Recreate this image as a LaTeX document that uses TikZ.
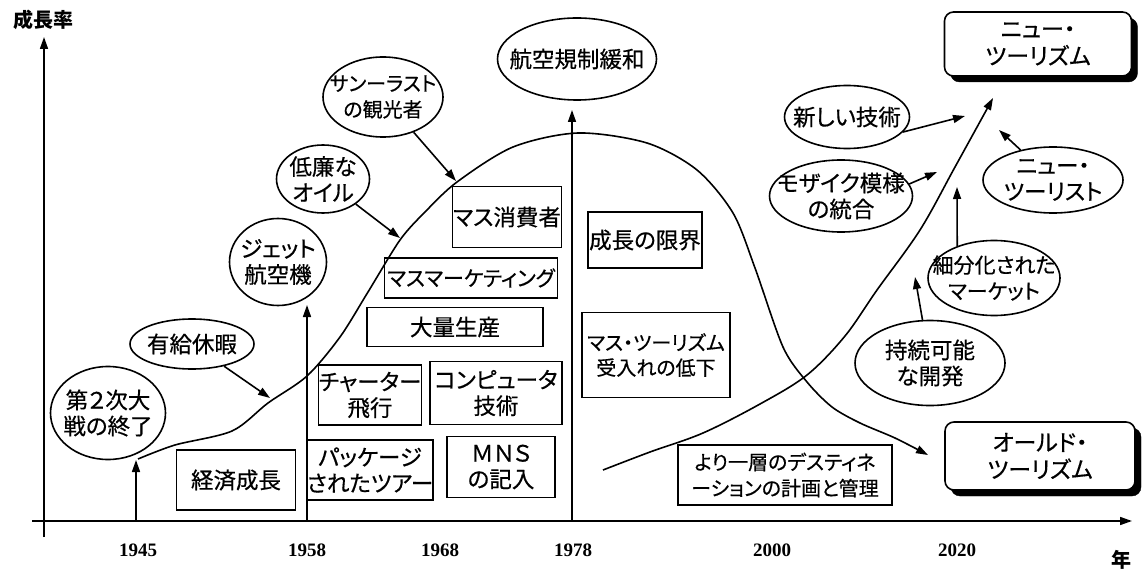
\documentclass[tikz,border=0pt]{standalone}
\usepackage{fontspec}
\setmainfont{Liberation Serif}
\newfontfamily\jp[RawFeature=+palt,FakeBold=0.5]{Noto Sans CJK JP}
\newfontfamily\jpb{Noto Sans CJK JP}
\usetikzlibrary{shapes.geometric,arrows.meta}
\begin{document}
\begin{tikzpicture}[x=1pt,y=-1pt,
  ln/.style={line width=1.6pt},
  arr/.style={line width=1.6pt,-{Triangle[length=12pt,width=8pt]}},
  jpf/.style={font=\jp\fontsize{22.5}{26}\selectfont},
  oval/.style={ellipse,draw,line width=1.6pt,inner sep=-40pt,align=center,jpf},
  sbox/.style={rectangle,draw,line width=1.6pt,inner sep=0pt,align=center,jpf},
  rbox/.style={rectangle,rounded corners=9pt,draw,line width=1.6pt,inner sep=0pt,align=center,fill=white,font=\jp\fontsize{23}{27}\selectfont},
  shad/.style={rectangle,rounded corners=9pt,draw,fill=black,inner sep=0pt},
  year/.style={font=\bfseries\fontsize{19}{19}\selectfont},
  axlab/.style={font=\jpb\bfseries\fontsize{20}{20}\selectfont}
]
\useasboundingbox (0,0) rectangle (1147,572);

% axes
\coordinate (yb) at (44,537);
\coordinate (yt) at (44,37);
\coordinate (xl) at (32,521);
\coordinate (xr) at (1132,521);
\draw[arr] (yb) -- (yt);
\draw[arr] (xl) -- (xr);
\node[axlab] (ylab) at (43,20) {成長率};
\node[axlab] (xlab) at (1121,560) {年};

% years
\node[year] (y1945) at (138,550) {1945};
\node[year] (y1958) at (307,550) {1958};
\node[year] (y1968) at (440,550) {1968};
\node[year] (y1978) at (573,550) {1978};
\node[year] (y2000) at (772,550) {2000};
\node[year] (y2020) at (957,550) {2020};

% vertical markers
\coordinate (a45) at (136,521); \coordinate (t45) at (136,460);
\coordinate (a58) at (307,521); \coordinate (t58) at (307,305);
\coordinate (a78) at (572,521); \coordinate (t78) at (572,110);
\draw[arr] (a45) -- (t45);
\draw[arr] (a58) -- (t58);
\draw[arr] (a78) -- (t78);

% old tourism curve
\draw[arr] plot[smooth,tension=0.5] coordinates {
 (138,459) (175,445) (232,431) (268,403) (307,376) (340,337)
 (368,292) (400,240) (425,212) (457,182) (513,147) (578,133)
 (647,143) (697,170) (733,213) (755,268) (783,347) (807,382) (832,407)
 (860,423) (895,438) (928,455)};

% new tourism curve
\draw[arr] plot[smooth,tension=0.55] coordinates {
 (603,470) (650,452) (703,433) (760,404) (807,375) (845,336)
 (877,290) (920,230) (955,167) (993,98)};

% ovals
\node[oval,minimum width=115pt,minimum height=93pt] (sen) at (108,413) {第２次大\\戦の終了};
\node[oval,minimum width=124pt,minimum height=50pt] (yukyu) at (192,344) {有給休暇};
\node[oval,minimum width=97pt,minimum height=87pt] (jet) at (278,262) {ジェット\\航空機};
\node[oval,minimum width=93pt,minimum height=68pt] (oil) at (323,179) {低廉な\\オイル};
\node[oval,minimum width=120pt,minimum height=80pt,font=\jp\fontsize{20}{26}\selectfont] (sun) at (383,97) {サンーラスト\\の観光者};
\node[oval,minimum width=159pt,minimum height=82pt] (kisei) at (577,59) {航空規制緩和};
\node[oval,minimum width=125pt,minimum height=63pt] (shin) at (847,117) {新しい技術};
\node[oval,minimum width=143pt,minimum height=72pt] (mosaic) at (841,196) {モザイク模様\\の統合};
\node[oval,minimum width=140pt,minimum height=66pt] (nt) at (1053,180) {ニュー・\\ツーリスト};
\node[oval,minimum width=132pt,minimum height=75pt,font=\jp\fontsize{21}{26}\selectfont] (seg) at (994,278) {細分化された\\マーケット};
\node[oval,minimum width=150pt,minimum height=85pt] (jizoku) at (930,363) {持続可能\\な開発};

% boxes
\node[sbox,minimum width=119pt,minimum height=60pt] (keizai) at (236,480) {経済成長};
\node[sbox,minimum width=115pt,minimum height=60pt] (pack) at (370,470) {パッケージ\\されたツアー};
\node[sbox,minimum width=95pt,minimum height=60pt] (charter) at (370,395) {チャーター\\飛行};
\node[sbox,minimum width=132pt,minimum height=63pt] (comp) at (496,393) {コンピュータ\\技術};
\node[sbox,minimum width=108pt,minimum height=61pt] (mns) at (501,467) {ＭＮＳ\\の記入};
\node[sbox,minimum width=176pt,minimum height=39pt] (tairyo) at (455,327) {大量生産};
\node[sbox,minimum width=173pt,minimum height=40pt,font=\jp\fontsize{21}{25}\selectfont] (massmkt) at (471,278) {マスマーケティング};
\node[sbox,minimum width=109pt,minimum height=61pt] (masscons) at (507,217) {マス消費者};
\node[sbox,minimum width=114pt,minimum height=56pt] (genkai) at (645,240) {成長の限界};
\node[sbox,minimum width=148pt,minimum height=85pt,font=\jp\fontsize{20}{25}\selectfont] (teika) at (656,355) {マス・ツーリズム\\受入れの低下};
\node[sbox,minimum width=214pt,minimum height=60pt,font=\jp\fontsize{20}{26}\selectfont] (keikaku) at (785,475) {より一層のデスティネ\\ーションの計画と管理};

% shadowed rounded boxes
\node[shad,minimum width=187pt,minimum height=64pt] (ntsh) at (1044,50) {};
\node[rbox,minimum width=187pt,minimum height=64pt] (newt) at (1038,44) {ニュー・\\ツーリズム};
\node[shad,minimum width=190pt,minimum height=68pt] (otsh) at (1046,462) {};
\node[rbox,minimum width=190pt,minimum height=68pt] (oldt) at (1040,456) {オールド・\\ツーリズム};

% influence arrows
\coordinate (c1) at (270,398);
\coordinate (c2) at (400,238);
\coordinate (c3) at (456,181);
\coordinate (c4) at (965,116);
\coordinate (c5) at (937,172);
\coordinate (c6) at (999,130);
\coordinate (c7) at (957,187);
\coordinate (c8) at (915,277);
\draw[arr] (yukyu) -- (c1);
\draw[arr] (oil) -- (c2);
\draw[arr] (sun) -- (c3);
\draw[arr] (shin.-15) -- (c4);
\draw[arr] (mosaic.10) -- (c5);
\draw[arr] (nt) -- (c6);
\draw[arr] (seg.139) -- (c7);
\draw[arr] (jizoku) -- (c8);
\end{tikzpicture}
\end{document}
